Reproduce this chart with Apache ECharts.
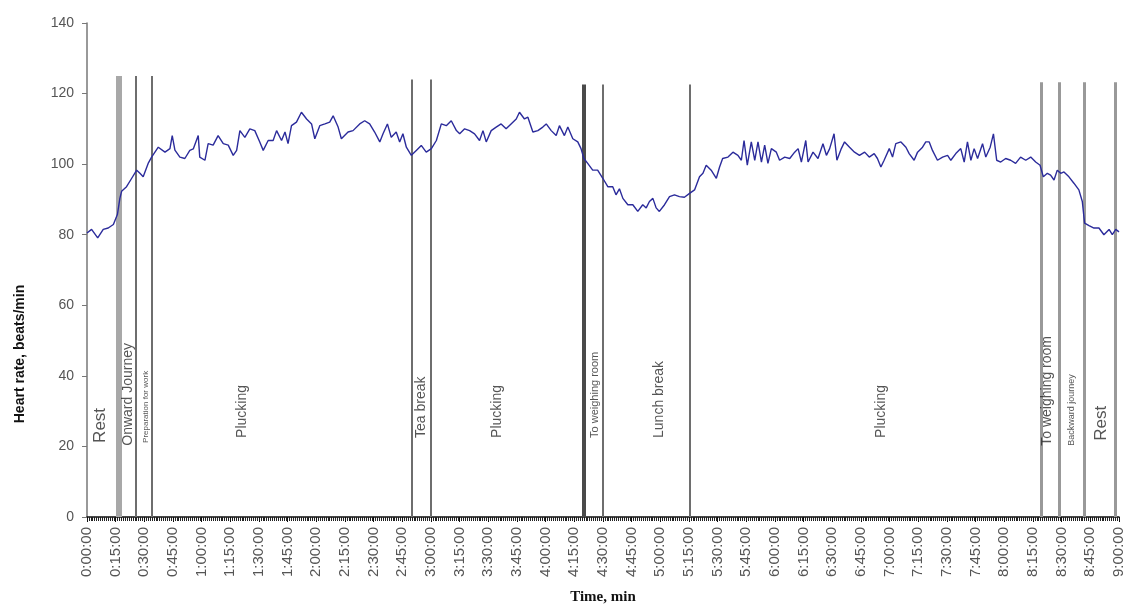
<!DOCTYPE html>
<html><head><meta charset="utf-8">
<script src="https://cdn.jsdelivr.net/npm/echarts@6/dist/echarts.min.js"></script>
<style>html,body{margin:0;padding:0;background:#fff}#c{width:1128px;height:610px}</style>
</head><body><div id="c"></div>
<script>
const minutes = [0,2.4,5.6,8.5,11.1,13.8,15.9,17.2,18.1,20.7,23.4,26,27.7,29.4,32,33.8,37.3,40.8,43.4,44.6,46,48.6,51.2,53.8,55.6,58.2,59,61.7,63.4,66,68.6,71.3,73.9,76.5,78.3,80,82.6,85.2,87.8,90.4,92.2,94.8,97.4,99.2,101.8,103.6,105.2,107,109.6,112.2,114.9,117.5,119.2,121.8,124.5,127,128.8,131.4,133.1,136.6,139.2,142.7,145.3,147.9,150.5,153.2,154.9,157.2,159.2,161.8,163.6,165.3,167.1,169.7,172.3,174.9,177.5,180.2,182.8,185.4,188,190.6,193.3,195,197.6,200.2,202.8,205.4,207.2,208.9,211.5,214.1,216.7,219.3,221.9,224.6,226.3,228.9,230.7,233.3,235.9,238.5,240.3,242.9,245.5,247.2,249.8,251.6,254.2,256.8,258.5,260,262,264.6,267.2,269.9,272.5,275.1,276.8,278.6,280.4,283,285.6,288.2,290.8,292.6,294.3,296.1,297.8,299.5,302.2,304.8,307.4,310,312.6,315.3,317.9,320.5,322.3,324,326.6,329.3,331,332.6,335.4,338,340.6,342.4,343.8,345.5,347.6,349.4,351.1,352.9,354.6,356.3,358.1,360.7,362.4,365.1,367.7,370.3,372.1,373.8,376.1,377.3,379.9,382.5,385.1,386.9,388.6,390.9,392.4,394.7,396.4,399,401.6,404.2,406.9,409.3,411.9,413.6,415.4,417.1,419.8,421.5,423.2,425.9,428.5,430.2,432.8,434.6,437.2,438.9,440.7,442.4,445,447.7,450.3,452,454.6,457.2,459,460.7,462.5,464.2,466,468.6,470.3,472.6,474.3,476,478.1,480.7,483.3,485.9,488.5,491.2,493.8,496.4,498.7,500.4,502.5,504.2,506,507.7,509.5,511.2,513.8,516.4,519,520.8,522,524.3,526.9,529.5,532.1,534.8,536.5,538.3,540];
const heartRate = [80.5,81.5,79.1,81.5,81.9,82.9,85.7,90.3,92.3,93.6,96,98.3,97.4,96.4,100.2,102,104.8,103.4,104.4,108.1,104,102,101.6,103.9,104.3,108.1,102,101.1,105.8,105.4,108.1,105.8,105.4,102.5,103.9,109.5,107.6,110,109.5,106.3,103.9,106.7,106.7,109.5,106.7,109.1,105.8,110.9,111.9,114.7,112.8,111.4,107.2,110.9,111.4,111.9,113.7,110.5,107.2,109.1,109.5,111.4,112.3,111.4,109.1,106.3,108.6,111.4,107.6,109.1,106.3,108.6,104.8,102.5,103.9,105.3,103.4,104.4,106.7,111.4,110.9,112.3,109.5,108.6,110,109.5,108.6,106.7,109.5,106.3,109.5,110.5,111.4,110,111.4,112.8,114.7,112.8,113.3,109.1,109.5,110.5,111.4,109.5,108.1,110.9,108.1,110.5,107.2,106.3,104.4,101.6,100.2,98.3,98.3,96,93.6,93.6,91.3,93,90.3,88.5,88.5,86.6,88.5,87.6,89.4,90.3,87.6,86.6,88.5,90.8,91.3,90.8,90.6,91.7,92.7,96.4,97.4,99.7,98.3,96,99.2,101.6,102,103.4,102.5,101.1,106.7,99.7,106.3,101.1,106.3,100.6,105.4,100.2,104.4,103.4,101.1,102,101.6,103.4,104.4,100.6,106.7,100.6,103.4,101.6,105.8,102.5,104.4,108.6,101.1,104.4,106.3,104.8,103.4,102.5,103.4,102,103,101.6,99.2,101.1,104.4,102,105.8,106.3,104.8,103,101.1,103.4,104.8,106.3,106.3,103.9,101.1,102,102.5,101.1,103,104.4,100.6,106.3,101.1,104.4,101.6,105.8,102,104.8,108.6,101.1,100.6,101.6,101.1,100.2,102,101.1,102,100.6,99.7,96.4,97.4,96.9,95.5,98.3,97.4,97.8,96.4,94.6,92.7,89.4,83.3,82.6,81.9,81.9,80,81.5,80,81.5,80.8];
const xTickLabels = ['0:00:00','0:15:00','0:30:00','0:45:00','1:00:00','1:15:00','1:30:00','1:45:00','2:00:00','2:15:00','2:30:00','2:45:00','3:00:00','3:15:00','3:30:00','3:45:00','4:00:00','4:15:00','4:30:00','4:45:00','5:00:00','5:15:00','5:30:00','5:45:00','6:00:00','6:15:00','6:30:00','6:45:00','7:00:00','7:15:00','7:30:00','7:45:00','8:00:00','8:15:00','8:30:00','8:45:00','9:00:00'];
const boundaryMinutes = [16.5,25.6,33.8,169.7,179.8,259.8,270,315.6,499.4,508.6,521.7,538];
const boundaryTops = [125,125,125,124,124,122.6,122.6,122.6,123.2,123.2,123.2,123.2];
const activityNames = ['Rest','Onward Journey','Preparation for work','Plucking','Tea break','Plucking','To weighing room','Lunch break','Plucking','To weighing room','Backward journey','Rest'];
const activityMinutes = [6.8,21.4,30.8,81,175,214.8,265.6,299.5,415.6,502.4,515.4,530.6];
const activityBase = [21,20.2,21,22.4,22.4,22.4,22.4,22.4,22.4,20.2,20.2,21.6];

const boundaryWidth = [6,2,2,2,2,4,2,2,3,3,3,3];
const boundaryColor = ['#a8a8a8','#6e6e6e','#6e6e6e','#6e6e6e','#6e6e6e','#4a4a4a','#6e6e6e','#6e6e6e','#999','#999','#999','#999'];
const labelSize = [17,14,8,14,14,14,11,14,14,14,9,17];

const chart = echarts.init(document.getElementById('c'));
const font = '"Liberation Sans", Arial, sans-serif';
chart.setOption({
  animation: false,
  backgroundColor: '#fff',
  grid: {left: 87, right: 9, top: 23, bottom: 88},
  xAxis: {
    type: 'value', min: 0, max: 540, interval: 15,
    name: 'Time, min', nameLocation: 'middle', nameGap: 73,
    nameTextStyle: {fontFamily: '"Liberation Serif", serif', fontWeight: 'bold', fontSize: 15, color: '#111'},
    axisLine: {lineStyle: {color: '#111', width: 1.5}},
    axisTick: {length: 5, lineStyle: {color: '#111'}},
    minorTick: {show: true, splitNumber: 15, length: 4, lineStyle: {color: '#222'}},
    splitLine: {show: false},
    axisLabel: {rotate: 90, margin: 10, fontSize: 15, color: '#555', fontFamily: font,
      formatter: v => xTickLabels[Math.round(v / 15)] || ''}
  },
  yAxis: {
    type: 'value', min: 0, max: 140, interval: 20,
    name: 'Heart rate, beats/min', nameLocation: 'middle', nameGap: 60,
    nameTextStyle: {fontFamily: font, fontWeight: 'bold', fontSize: 14, color: '#111', padding: [0, 168, 0, 0]},
    axisLine: {lineStyle: {color: '#777', width: 1.5}},
    axisTick: {length: 5, lineStyle: {color: '#777'}},
    splitLine: {show: false},
    axisLabel: {margin: 13, fontSize: 14, color: '#555', fontFamily: font}
  },
  series: [
    {
      type: 'line', data: [], z: 1, silent: true,
      markLine: {
        z: 1, silent: true, symbol: ['none', 'none'], label: {show: false}, animation: false,
        emphasis: {disabled: true},
        data: boundaryMinutes.map((t, i) => [
          {coord: [t, 0], lineStyle: {color: boundaryColor[i], width: boundaryWidth[i], type: 'solid'}},
          {coord: [t, boundaryTops[i]]}
        ])
      }
    },
    {
      type: 'line', z: 6, symbol: 'none', smooth: false,
      lineStyle: {color: '#2b2b9b', width: 1.4},
      data: minutes.map((m, i) => [m, heartRate[i]])
    },
    {
      type: 'scatter', z: 7, symbolSize: 1, silent: true,
      itemStyle: {color: 'rgba(0,0,0,0)'},
      data: activityNames.map((n, i) => ({
        name: n, value: [activityMinutes[i], activityBase[i]],
        label: {fontSize: labelSize[i]}
      })),
      label: {show: true, position: 'inside', rotate: 90, align: 'left', verticalAlign: 'middle',
        color: '#2a2a2a', fontFamily: font, formatter: p => p.name}
    }
  ]
});
</script></body></html>
